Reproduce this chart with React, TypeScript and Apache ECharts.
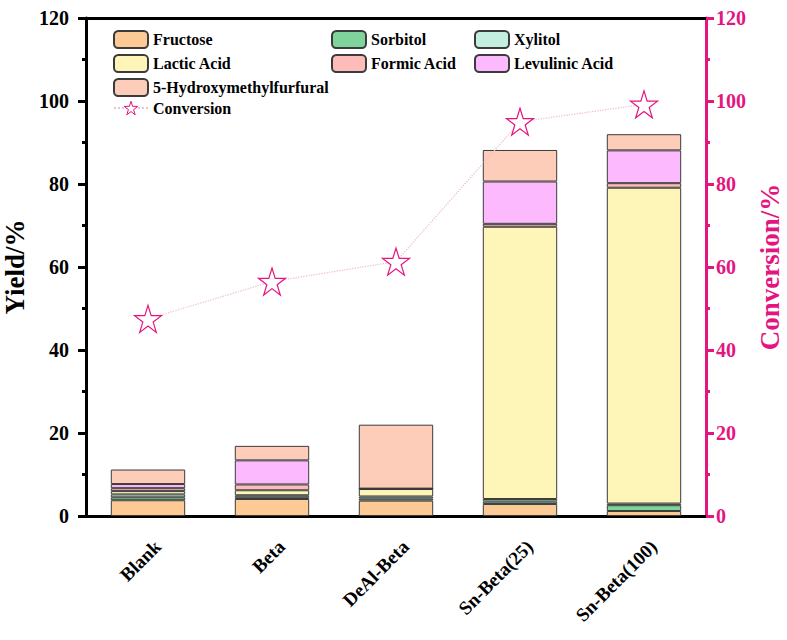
import * as echarts from 'echarts';
import { useEffect, useRef } from 'react';

const categories = ['Blank', 'Beta', 'DeAl-Beta', 'Sn-Beta(25)', 'Sn-Beta(100)'];
const fructose = [3.8, 4.1, 3.7, 2.9, 1.2];
const sorbitol = [0.7, 0.4, 0.5, 0.6, 1.4];
const xylitol = [0.7, 0.5, 0.5, 0.6, 0.4];
const lacticAcid = [0.8, 1.2, 1.8, 65.6, 76.1];
const formicAcid = [0.7, 1.4, 0.1, 0.7, 1.1];
const levulinicAcid = [1.0, 5.8, 0, 10.2, 7.9];
const hmf = [3.5, 3.5, 15.4, 7.6, 3.9];
const conversion = [47.5, 56.5, 61.3, 95.0, 99.2];
const yTicks = [0, 20, 40, 60, 80, 100, 120];

const FONT = '"Liberation Serif", serif';
const PINK = '#E5157F';
const STAR =
  'path://M50,0 L61.2,34.5 L97.6,34.5 L68.2,55.9 L79.4,90.5 L50,69.1 L20.6,90.5 L31.8,55.9 L2.4,34.5 L38.8,34.5 Z';

const barSeries = [
  { name: 'Fructose', data: fructose, color: '#FDC994' },
  { name: 'Sorbitol', data: sorbitol, color: '#7ED49B' },
  { name: 'Xylitol', data: xylitol, color: '#C4EEE0' },
  { name: 'Lactic Acid', data: lacticAcid, color: '#FEF6B8' },
  { name: 'Formic Acid', data: formicAcid, color: '#FDBCBA' },
  { name: 'Levulinic Acid', data: levulinicAcid, color: '#FDB9FD' },
  { name: '5-Hydroxymethylfurfural', data: hmf, color: '#FDCDB9' },
];

const legendText = { fontFamily: FONT, fontWeight: 'bold' as const, fontSize: 16, color: '#000' };

const App: React.FC = () => {
  const chartRef = useRef<HTMLDivElement>(null);

  useEffect(() => {
    if (!chartRef.current) return;
    document.body.style.margin = '0';
    const mychart = echarts.init(chartRef.current, null, { renderer: 'svg' });

    const legendBase = {
      orient: 'vertical' as const,
      itemWidth: 34,
      itemHeight: 17,
      itemGap: 5,
      textStyle: legendText,
      padding: 0,
    };

    mychart.setOption({
      animation: false,
      backgroundColor: '#fff',
      grid: { left: 86, right: 81, top: 18, bottom: 124, outerBoundsMode: 'none' },
      legend: [
        { ...legendBase, left: 113, top: 30, data: ['Fructose', 'Lactic Acid', '5-Hydroxymethylfurfural'] },
        { ...legendBase, left: 331, top: 30, data: ['Sorbitol', 'Formic Acid'] },
        { ...legendBase, left: 474, top: 30, data: ['Xylitol', 'Levulinic Acid'] },
        {
          ...legendBase,
          left: 113,
          top: 100,
          data: [
            {
              name: 'Conversion',
              itemStyle: { color: '#fff', borderColor: PINK, borderWidth: 1 },
            },
          ],
        },
      ],
      xAxis: [
        {
          type: 'category',
          data: categories,
          axisLine: { lineStyle: { color: '#000', width: 3 } },
          axisTick: { alignWithLabel: true, length: 7, lineStyle: { width: 3, color: '#000' } },
          axisLabel: {
            rotate: 45,
            margin: 18,
            verticalAlign: 'top',
            padding: [4, 0, 0, 0],
            color: '#000',
            fontFamily: FONT,
            fontWeight: 'bold',
            fontSize: 19,
          },
        },
        {
          type: 'category',
          data: categories,
          position: 'bottom',
          axisLine: { show: false },
          axisTick: { length: 4, lineStyle: { width: 3, color: '#000' } },
          axisLabel: { show: false },
        },
        {
          type: 'category',
          data: categories,
          position: 'top',
          axisLine: { lineStyle: { color: '#000', width: 3 } },
          axisTick: { show: false },
          axisLabel: { show: false },
        },
      ],
      yAxis: [
        {
          type: 'value',
          min: yTicks[0],
          max: yTicks[yTicks.length - 1],
          interval: 20,
          name: 'Yield/%',
          nameLocation: 'middle',
          nameGap: 52,
          nameTextStyle: { fontFamily: FONT, fontWeight: 'bold', fontSize: 27, color: '#000' },
          splitLine: { show: false },
          axisLine: { show: true, lineStyle: { color: '#000', width: 3 } },
          axisTick: { show: true, length: 8, lineStyle: { width: 3, color: '#000' } },
          minorTick: { show: true, splitNumber: 2, length: 4, lineStyle: { width: 3, color: '#000' } },
          axisLabel: { color: '#000', fontFamily: FONT, fontWeight: 'bold', fontSize: 20, margin: 17 },
        },
        {
          type: 'value',
          min: yTicks[0],
          max: yTicks[yTicks.length - 1],
          interval: 20,
          position: 'right',
          name: 'Conversion/%',
          nameLocation: 'middle',
          nameGap: 48,
          nameRotate: 90,
          nameTextStyle: { fontFamily: FONT, fontWeight: 'bold', fontSize: 27, color: PINK },
          splitLine: { show: false },
          axisLine: { show: true, lineStyle: { color: PINK, width: 3 } },
          axisTick: { show: true, length: 8, lineStyle: { width: 3, color: PINK } },
          minorTick: { show: true, splitNumber: 2, length: 4, lineStyle: { width: 3, color: PINK } },
          axisLabel: { color: PINK, fontFamily: FONT, fontWeight: 'bold', fontSize: 20, margin: 10 },
        },
      ],
      series: [
        ...barSeries.map((s) => ({
          name: s.name,
          type: 'bar',
          stack: 'yield',
          barWidth: '60%',
          data: s.data,
          itemStyle: { color: s.color, borderColor: '#3b3b3b', borderWidth: 1 },
        })),
        {
          name: 'Conversion',
          type: 'line',
          yAxisIndex: 1,
          data: conversion,
          symbol: STAR,
          symbolSize: 27,
          z: 5,
          lineStyle: { type: 'dotted', color: '#EFC0D4', width: 1.3 },
          itemStyle: { color: '#fff', borderColor: PINK, borderWidth: 1.2 },
        },
      ],
    });

    const handleResize = () => {
      mychart.resize();
    };
    window.addEventListener('resize', handleResize);

    return () => {
      window.removeEventListener('resize', handleResize);
      if (!mychart.isDisposed()) {
        mychart.dispose();
      }
    };
  }, []);

  return <div ref={chartRef} style={{ width: '787px', height: '640px' }}></div>;
};

export default App;
